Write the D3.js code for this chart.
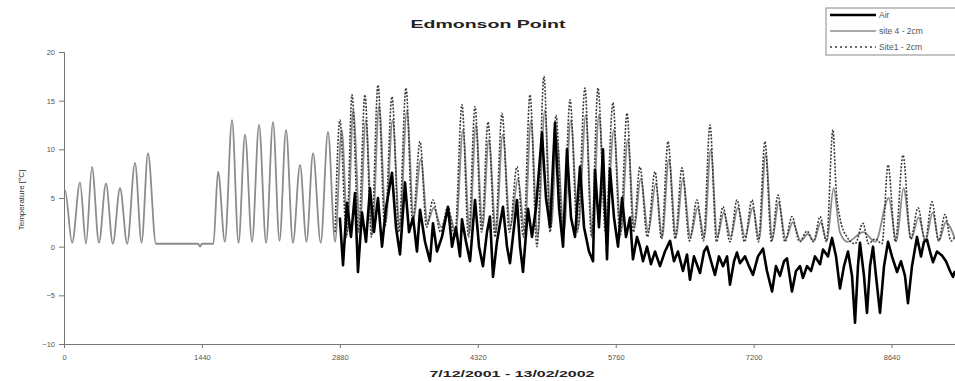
<!DOCTYPE html>
<html><head><meta charset="utf-8">
<script src="https://cdn.jsdelivr.net/npm/d3@7"></script>
<style>body{margin:0;background:#fff}svg{display:block}</style>
</head><body>
<svg id="c" width="955" height="381"></svg>
<script>
// ---- data (time in 10-minute sample index, temperature in °C) ----
const xTicks = [0, 1440, 2880, 4320, 5760, 7200, 8640];
const yTicks = [-10, -5, 0, 5, 10, 15, 20];
const seriesNames = ["Air", "site 4 - 2cm", "Site1 - 2cm"];

const site4T = [0,10,85,167,230,292,365,438,510,585,660,741,810,877,960,1000,1400,1420,1440,1560,1608,1680,1754,1822,1890,1963,2036,2110,2182,2250,2318,2390,2464,2532,2600,2680,2756,2830,
 2900,2960,3020,3090,3150,3220,3290,3360,3430,3505,3580,3650,3725,3795,3860,3940,4015,4090,4165,4235,4300,4370,4435,4510,4580,4660,4740,4810,4875,4945,5020,5085,5145,5220,5290,5370,5447,5515,5585,5660,5740,5815,5885,5955,6020,6100,6178,6245,6315,6390,6460,6540,6615,6685,6752,6820,6888,6960,7035,7110,7190,7258,7325,7395,7460,7535,7608,7690,7765,7830,7900,7965,8035,8100,8180,8345,8470,8610,8690,8765,8845,8922,8995,9068,9135,9205,9302];
const site4V = [5.5,5.8,0.4,6.6,0.3,8.2,0.4,6.5,0.3,6.0,0.3,8.6,0.4,9.6,0.3,0.3,0.3,0.0,0.3,0.3,7.7,0.5,13.0,0.4,11.5,0.5,12.5,0.4,12.8,0.6,12.0,0.4,8.4,0.5,9.6,0.4,11.8,0.5,
 12.0,1.5,14.0,2.0,13.0,1.5,14.5,2.5,13.0,2.0,14.0,3.0,9.0,2.5,4.0,2.0,3.5,1.5,12.0,1.5,12.5,2.0,11.0,1.5,11.5,2.0,7.0,1.5,13.0,1.0,14.0,2.0,11.0,1.5,13.0,2.0,13.5,1.5,13.5,2.0,12.0,1.5,11.0,2.0,7.0,1.5,6.5,1.0,9.0,1.0,7.0,1.0,4.0,1.0,10.0,1.0,3.5,1.0,4.0,1.0,4.0,0.8,9.5,0.8,4.5,0.8,2.5,0.6,1.3,0.6,2.5,0.6,6.0,1.5,0.5,1.5,0.5,5.0,0.6,6.0,0.8,3.0,0.6,3.5,0.6,2.5,0.8];

const site1T = [2830,2880,2950,3007,3075,3142,3210,3278,3350,3424,3497,3570,3640,3717,3785,3852,3930,4009,4080,4155,4223,4291,4360,4427,4500,4573,4650,4729,4797,4865,4938,5011,5075,5136,5210,5283,5360,5439,5507,5575,5653,5731,5805,5878,5945,6013,6090,6170,6238,6306,6380,6452,6530,6608,6676,6744,6812,6880,6953,7026,7105,7183,7250,7318,7386,7454,7527,7600,7680,7757,7825,7893,7960,8028,8060,8100,8174,8260,8341,8400,8467,8540,8603,8680,8759,8840,8916,8990,9062,9130,9198,9260,9302];
const site1V = [1.5,13.0,1.0,15.6,1.5,15.6,1.0,16.6,2.0,15.4,1.5,16.3,2.5,10.8,2.0,4.8,1.5,4.1,1.0,14.6,1.0,14.4,1.5,12.8,1.0,13.7,1.5,8.2,1.0,15.6,0.0,17.5,1.5,13.5,1.0,15.1,1.5,16.3,1.0,16.3,1.5,14.8,1.0,13.7,1.5,8.2,1.0,7.7,0.8,10.8,0.8,8.1,0.6,4.8,0.6,12.5,0.5,4.1,0.5,4.8,0.5,4.8,0.5,10.8,0.5,5.3,0.5,3.1,0.5,1.6,0.5,3.1,0.5,12.0,6.0,3.0,1.0,0.3,2.4,0.3,0.8,0.3,8.4,0.5,9.4,0.8,4.0,0.6,4.6,0.6,3.3,0.6,1.0];

const airT = [2880,2913,2954,2996,3038,3069,3111,3153,3195,3236,3278,3320,3362,3424,3466,3508,3560,3602,3644,3685,3717,3769,3821,3852,3894,3946,4009,4051,4092,4134,4155,4197,4239,4291,4333,4374,4416,4447,4479,4520,4583,4625,4656,4698,4729,4761,4792,4844,4886,4928,4990,5032,5074,5126,5168,5210,5251,5293,5335,5387,5429,5481,5523,5544,5585,5627,5669,5700,5742,5784,5826,5867,5909,5940,5982,6013,6045,6087,6128,6170,6222,6274,6327,6368,6410,6462,6504,6535,6577,6640,6682,6713,6755,6796,6838,6880,6922,6953,6995,7026,7057,7110,7151,7193,7245,7298,7339,7392,7433,7475,7517,7548,7600,7642,7684,7715,7757,7799,7840,7893,7924,7976,8018,8060,8101,8143,8185,8227,8258,8289,8310,8352,8383,8415,8446,8477,8519,8561,8603,8644,8697,8738,8780,8811,8853,8905,8947,8978,9010,9041,9072,9114,9166,9208,9250,9281,9302];
const airV = [3.0,-1.9,4.5,1.0,5.5,-2.6,3.5,0.5,6.0,1.5,5.0,0.0,4.0,7.6,2.0,-0.8,6.6,1.5,3.0,-0.5,3.8,0.5,-1.5,2.4,-0.5,1.0,4.1,0.0,2.0,-1.0,2.8,0.5,-1.5,4.8,0.0,-2.0,1.5,3.1,-3.1,0.5,4.1,0.0,-1.7,2.0,4.8,0.0,-2.6,3.9,1.0,4.0,11.7,5.0,2.0,12.7,4.0,0.0,10.0,3.0,1.0,8.2,2.0,-0.5,-1.5,7.9,2.0,10.0,-1.3,8.0,3.0,0.0,5.0,1.0,3.0,-1.3,1.0,0.0,-1.5,0.0,-1.8,-0.5,-2.0,-0.5,0.6,-1.5,-0.5,-2.5,-0.8,-3.4,-1.0,-2.7,-0.5,0.0,-1.5,-2.9,-1.0,-2.0,-1.0,-3.9,-1.5,-0.6,-1.7,-1.0,-2.0,-2.9,-1.0,-0.2,-2.5,-4.6,-2.0,-3.0,-1.5,-1.2,-4.6,-2.5,-2.0,-3.2,-2.0,-2.5,-1.0,-1.8,-0.3,-1.0,0.9,-1.0,-4.3,-2.0,-0.5,-3.0,-7.8,-2.0,0.4,-3.0,-6.8,-2.0,0.0,-3.0,-6.8,-2.0,0.5,-1.0,-2.6,-1.5,-3.0,-5.8,-2.0,1.0,-1.0,0.5,0.7,-0.5,-1.6,-0.5,-0.9,-1.5,-2.5,-3.1,-2.5];

// ---- chart ----
const svg = d3.select("#c");
const W = 955, H = 381;
const m = {left: 64, right: 0, top: 52, bottom: 37};
const x = d3.scaleLinear().domain([0, 9302]).range([m.left, W - m.right]);
const y = d3.scaleLinear().domain([-10, 20]).range([H - m.bottom, m.top]);
const FONT = "Arial, 'Liberation Sans', sans-serif";

svg.append("defs").append("clipPath").attr("id", "clip")
  .append("rect").attr("x", m.left).attr("y", m.top - 10).attr("width", W - m.left).attr("height", H - m.bottom - m.top + 10);

const zip = (T, V) => T.map((t, i) => [t, V[i]]);
const smooth = d3.line().x(d => x(d[0])).y(d => y(d[1])).curve(d3.curveMonotoneX);
const jagged = d3.line().x(d => x(d[0])).y(d => y(d[1]));
const g = svg.append("g").attr("clip-path", "url(#clip)");

g.append("path").datum(zip(site4T, site4V)).attr("d", smooth)
  .attr("fill", "none").attr("stroke", "#8c8c8c").attr("stroke-width", 1.8).attr("stroke-linejoin", "round");
g.append("path").datum(zip(site1T, site1V)).attr("d", smooth)
  .attr("fill", "none").attr("stroke", "#3a3a3a").attr("stroke-width", 1.6).attr("stroke-dasharray", "2,1.5");
g.append("path").datum(zip(airT, airV)).attr("d", jagged)
  .attr("fill", "none").attr("stroke", "#000").attr("stroke-width", 2.6).attr("stroke-linejoin", "round");

// axes
const yAxis = d3.axisLeft(y).tickValues(yTicks).tickSize(5).tickPadding(4).tickFormat(d3.format("d"));
const gy = svg.append("g").attr("transform", `translate(${m.left},0)`).call(yAxis);
gy.select(".domain").attr("stroke", "#777");
gy.selectAll(".tick line").attr("stroke", "#777");
gy.selectAll("text").attr("font-family", FONT).attr("font-size", 7.5).attr("fill", "#555");

const xAxis = d3.axisBottom(x).tickValues(xTicks).tickSize(4).tickPadding(7).tickFormat(d3.format("d"));
const gx = svg.append("g").attr("transform", `translate(0,${y(-10)})`).call(xAxis);
gx.select(".domain").attr("stroke", "#777");
gx.selectAll(".tick line").attr("stroke", "#777");
gx.selectAll("text").attr("font-family", FONT).attr("font-size", 7.5).attr("fill", "#555");

// titles
svg.append("text").attr("x", 488).attr("y", 28).attr("text-anchor", "middle")
  .attr("font-family", FONT).attr("font-weight", "bold").attr("font-size", 11)
  .attr("fill", "#222").attr("textLength", 155).attr("lengthAdjust", "spacingAndGlyphs").text("Edmonson Point");
svg.append("text").attr("x", 512).attr("y", 377).attr("text-anchor", "middle")
  .attr("font-family", FONT).attr("font-weight", "bold").attr("font-size", 9)
  .attr("fill", "#222").attr("textLength", 165).attr("lengthAdjust", "spacingAndGlyphs").text("7/12/2001 - 13/02/2002");
svg.append("text").attr("transform", "translate(24,200) rotate(-90)").attr("text-anchor", "middle")
  .attr("font-family", FONT).attr("font-size", 8)
  .attr("fill", "#333").text("Temperature [°C]");

// legend
const lg = svg.append("g");
lg.append("rect").attr("x", 826).attr("y", 8).attr("width", 140).attr("height", 47)
  .attr("fill", "#fff").attr("stroke", "#888").attr("stroke-width", 1);
const styles = [
  {stroke: "#000", w: 2.4, dash: null},
  {stroke: "#8c8c8c", w: 1.6, dash: null},
  {stroke: "#3a3a3a", w: 1.6, dash: "2,3"}
];
seriesNames.forEach((n, i) => {
  const yy = 15 + i * 16;
  lg.append("line").attr("x1", 830).attr("x2", 876).attr("y1", yy).attr("y2", yy)
    .attr("stroke", styles[i].stroke).attr("stroke-width", styles[i].w).attr("stroke-dasharray", styles[i].dash);
  lg.append("text").attr("x", 879).attr("y", yy + 3).attr("font-family", FONT)
    .attr("font-size", 8.5).attr("fill", "#555").text(n);
});
</script>
</body></html>
